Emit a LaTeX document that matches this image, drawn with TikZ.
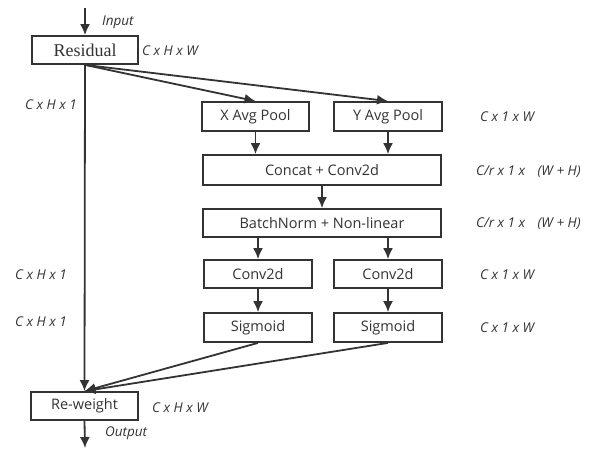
\documentclass[tikz,border=0pt]{standalone}
\usepackage{fontspec}
\setmainfont{Open Sans}
\newfontfamily\serifr{Liberation Serif}
\usetikzlibrary{arrows.meta}
\definecolor{ink}{HTML}{333333}
\begin{document}
\begin{tikzpicture}[x=1pt,y=-1pt,
  box/.style={draw=ink, line width=1.8pt, minimum height=28pt, inner sep=0pt, text=ink,
    font=\fontsize{14.5}{16}\selectfont},
  lbl/.style={anchor=west, inner sep=0pt, text=ink, font=\itshape\fontsize{13.5}{15}\selectfont},
  arr/.style={draw=ink, line width=1.8pt, -{Latex[length=11pt,width=10pt]}}]
\useasboundingbox (0,0) rectangle (590,450);
\fill[white] (0,0) rectangle (590,450);
% nodes
\node[box, minimum width=106pt, font=\serifr\fontsize{18}{20}\selectfont] (res) at (85,50) {Residual};
\node[box, minimum width=107pt, minimum height=29pt] (xp) at (255.5,116.5) {X Avg Pool};
\node[box, minimum width=108pt, minimum height=29pt] (yp) at (388,116.5) {Y Avg Pool};
\node[box, minimum width=238pt, minimum height=30pt] (cc) at (322,170) {Concat + Conv2d};
\node[box, minimum width=238pt] (bn) at (322,223) {BatchNorm + Non-linear};
\node[box, minimum width=108pt] (c1) at (258,274) {Conv2d};
\node[box, minimum width=108pt] (c2) at (388,274) {Conv2d};
\node[box, minimum width=108pt, minimum height=29pt] (s1) at (258,327.5) {Sigmoid};
\node[box, minimum width=108pt, minimum height=29pt] (s2) at (388,327.5) {Sigmoid};
\node[box, minimum width=107pt] (rw) at (84.5,406) {Re-weight};
\coordinate (in) at (85,8);
\coordinate (out) at (85,448);
% connectors
\draw[arr] (in) -- (res.north);
\draw[arr] (res.south) -- (rw.north);
\draw[arr] (res.south) -- (xp.north);
\draw[arr] (res.south) -- (yp.north);
\draw[arr] (xp.south) -- (xp.south |- cc.north);
\draw[arr] (yp.south) -- (yp.south |- cc.north);
\draw[arr] (cc.south) -- (bn.north);
\draw[arr] (c1.north |- bn.south) -- (c1.north);
\draw[arr] (c2.north |- bn.south) -- (c2.north);
\draw[arr] (c1.south) -- (s1.north);
\draw[arr] (c2.south) -- (s2.north);
\draw[arr] (s1.south) -- (rw.north);
\draw[arr] (s2.south) -- (rw.north);
\draw[arr] (rw.south) -- (out);
% labels
\node[lbl] (l1) at (102,22) {Input};
\node[lbl] (l2) at (105,433) {Output};
\node[lbl] (l3) at (142,51) {C x H x W};
\node[lbl] (l4) at (152,408) {C x H x W};
\node[lbl] (l5) at (25,105) {C x H x 1};
\node[lbl] (l6) at (15,275) {C x H x 1};
\node[lbl] (l7) at (15,322) {C x H x 1};
\node[lbl] (l8) at (480,117) {C x 1 x W};
\node[lbl] (l9) at (476,172) {C/r x 1 x \hspace{9pt}(W + H)};
\node[lbl] (l10) at (476,224) {C/r x 1 x \hspace{9pt}(W + H)};
\node[lbl] (l11) at (480,275) {C x 1 x W};
\node[lbl] (l12) at (480,328) {C x 1 x W};
\end{tikzpicture}
\end{document}
